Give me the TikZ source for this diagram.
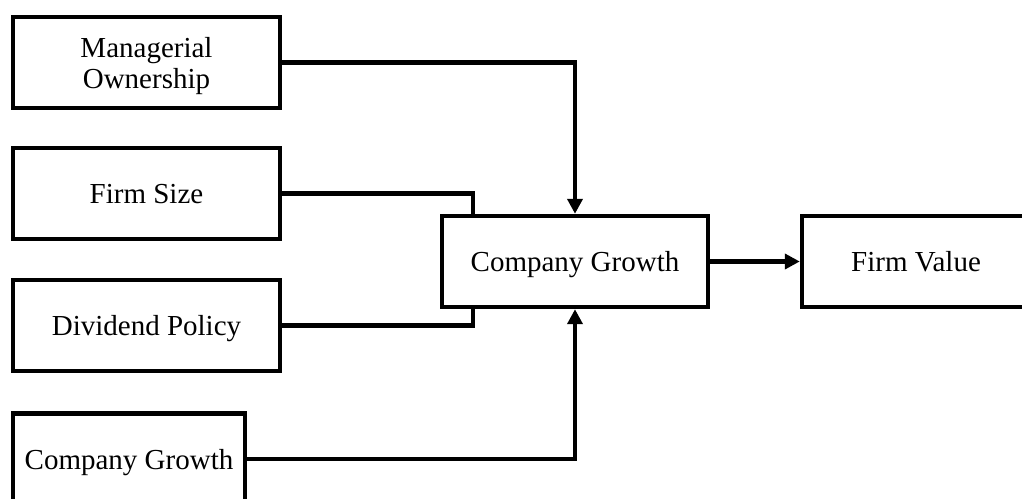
\documentclass[tikz,border=0pt]{standalone}
\usepackage{fontspec}
\setmainfont{Liberation Serif}
\usepackage{tikz}
\usetikzlibrary{
    arrows.meta,
    calc,
    positioning,
}
\tikzstyle{box}=[draw,rectangle,line width=2.2pt,font=\fontsize{14.5}{15.5}\selectfont,align=center,minimum height=45.5pt,inner sep=1mm]
\tikzstyle{single}=[box,text height=13pt,text depth=3pt]
\tikzstyle{link}=[line width=2.2pt]
\tikzstyle{arrow}=[link,-{Triangle[length=7.5pt,width=7.5pt]}]

\begin{document}
\begin{tikzpicture}[x=0.5pt,y=-0.5pt]
                \clip (0,0) rectangle (1022,498);
                \node[box,text depth=0pt,minimum width=133.5pt] (owner) at (146.5,62.5) {Managerial\\Ownership};
                \node[single,minimum width=133.5pt] (size) at (146.5,193.5) {Firm Size};
                \node[single,minimum width=133.5pt] (dividend) at (146.5,325.5) {Dividend Policy};
                \node[single,minimum width=116pt] (growthin) at (129,459) {Company Growth};
                \node[single,minimum width=133pt] (growth) at (575,261.5) {Company Growth};
                \node[single,minimum width=114pt] (value) at (916,261.5) {Firm Value};
                \draw[arrow] (owner.east) -| (growth.north);
                \draw[link] (size.east) -| ($(growth.north west)+(33,0)$);
                \draw[link] (dividend.east) -| ($(growth.south west)+(33,0)$);
                \draw[arrow] (growthin.east) -| (growth.south);
                \draw[arrow] (growth.east) -- (value.west);
\end{tikzpicture}
\end{document}
